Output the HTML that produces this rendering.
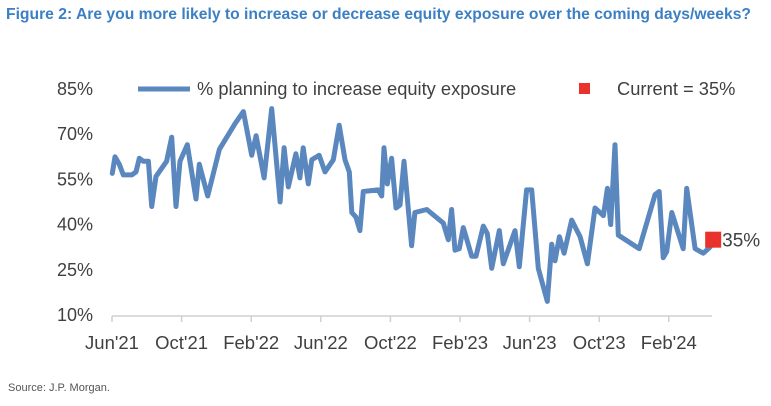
<!DOCTYPE html>
<html><head><meta charset="utf-8"><style>
body{margin:0;background:#fff;width:771px;height:401px;overflow:hidden;font-family:"Liberation Sans",Arial,sans-serif}
</style></head><body>
<svg width="771" height="401" viewBox="0 0 771 401">
<text x="6" y="19" font-size="15.5" font-weight="bold" fill="#3b7fc4" textLength="745" lengthAdjust="spacingAndGlyphs">Figure 2: Are you more likely to increase or decrease equity exposure over the coming days/weeks?</text>
<g id="axes"></g>
<g id="series"></g>
<line x1="138" y1="89" x2="190" y2="89" stroke="#5b87bf" stroke-width="5"/>
<text x="197" y="95" font-size="18.3" fill="#404040">% planning to increase equity exposure</text>
<rect x="579" y="83" width="11" height="11" fill="#e8322b"/>
<text x="617" y="95" font-size="18.3" fill="#404040">Current = 35%</text>
<text x="8" y="391" font-size="11" fill="#555">Source: J.P. Morgan.</text>
</svg>
<script>
const months=[0.02,0.17,0.42,0.65,1.13,1.38,1.57,1.8,2.09,2.28,2.53,3.14,3.43,3.68,3.91,4.33,4.83,5.02,5.5,6.17,7.07,7.55,8.03,8.28,8.74,9.18,9.66,9.89,10.13,10.57,10.8,10.99,11.28,11.48,11.91,12.24,12.72,13.06,13.39,13.64,13.78,14.02,14.25,14.44,15.3,15.5,15.63,15.82,16.07,16.32,16.55,16.78,17.22,17.41,18.09,19.04,19.33,19.52,19.71,19.96,20.19,20.67,20.92,21.34,21.57,21.82,22.26,22.49,23.16,23.41,23.83,24.12,24.5,25.02,25.27,25.46,25.71,25.98,26.42,26.9,27.32,27.76,28.24,28.47,28.66,28.91,29.1,30.3,31.21,31.45,31.68,31.88,32.17,32.83,33.03,33.51,33.98,34.37];
const values=[57,62.5,60,56.5,56.5,57.5,62,61,61,46,56,61,69,46,61,66.5,48.5,60,49.5,65,73.5,77.5,63,69.5,55.5,78.5,47.5,65.5,52.5,63.5,55.5,65.5,53.5,61.5,63,57.5,61.5,73,61.5,57.5,44,42.5,38,51,51.5,49.5,65.5,53.5,62,45.5,46.5,61,33,44,45,40.5,35,45,31.5,32,39,29.5,29.5,39.5,37,25.5,38,27,38,26,51.5,51.5,25.5,14.5,33.5,28,36,30.5,41.5,36,27,45.5,43,52,40,66.5,36.5,32,50,51,29,31,44,32,52,32,30.5,32.5];
const currentMonth=34.55, currentValue=35;
const yTicks=[10,25,40,55,70,85];
const xTickMonths=[0,4,8,12,16,20,24,28,32];
const xTickLabels=["Jun'21","Oct'21","Feb'22","Jun'22","Oct'22","Feb'23","Jun'23","Oct'23","Feb'24"];
const NS="http://www.w3.org/2000/svg";
const xS=m=>112+m*17.4, yS=v=>315-(v-10)*226/75;
const ax=document.getElementById('axes'), se=document.getElementById('series');
function mk(t,a,p){const e=document.createElementNS(NS,t);for(const k in a)e.setAttribute(k,a[k]);p.appendChild(e);return e;}
const base=mk('line',{x1:112,y1:316,x2:712,y2:316,stroke:'#d0d0d0','stroke-width':1.5},ax);


yTicks.forEach(v=>{const t=mk('text',{x:93,y:yS(v)+6,'font-size':18,fill:'#404040','text-anchor':'end'},ax);t.textContent=v+'%';

});
xTickMonths.forEach((m,i)=>{const l=mk('line',{x1:xS(m),y1:316,x2:xS(m),y2:322,stroke:'#d0d0d0','stroke-width':1.5},ax);


const t=mk('text',{x:xS(m),y:349,'font-size':18.5,fill:'#404040','text-anchor':'middle'},ax);t.textContent=xTickLabels[i];

});
const pts=months.map((m,i)=>xS(m).toFixed(1)+','+yS(values[i]).toFixed(1)).join(' ');
const pl=mk('polyline',{points:pts,fill:'none',stroke:'#5b87bf','stroke-width':5,'stroke-linejoin':'round','stroke-linecap':'round'},se);


const cx=xS(currentMonth), cy=yS(currentValue);
const r=mk('rect',{x:cx-8,y:cy-8,width:16,height:16,fill:'#e8322b'},se);


const ct=mk('text',{x:cx+9,y:cy+7,'font-size':19,fill:'#404040'},se);ct.textContent=currentValue+'%';


</script>
</body></html>
